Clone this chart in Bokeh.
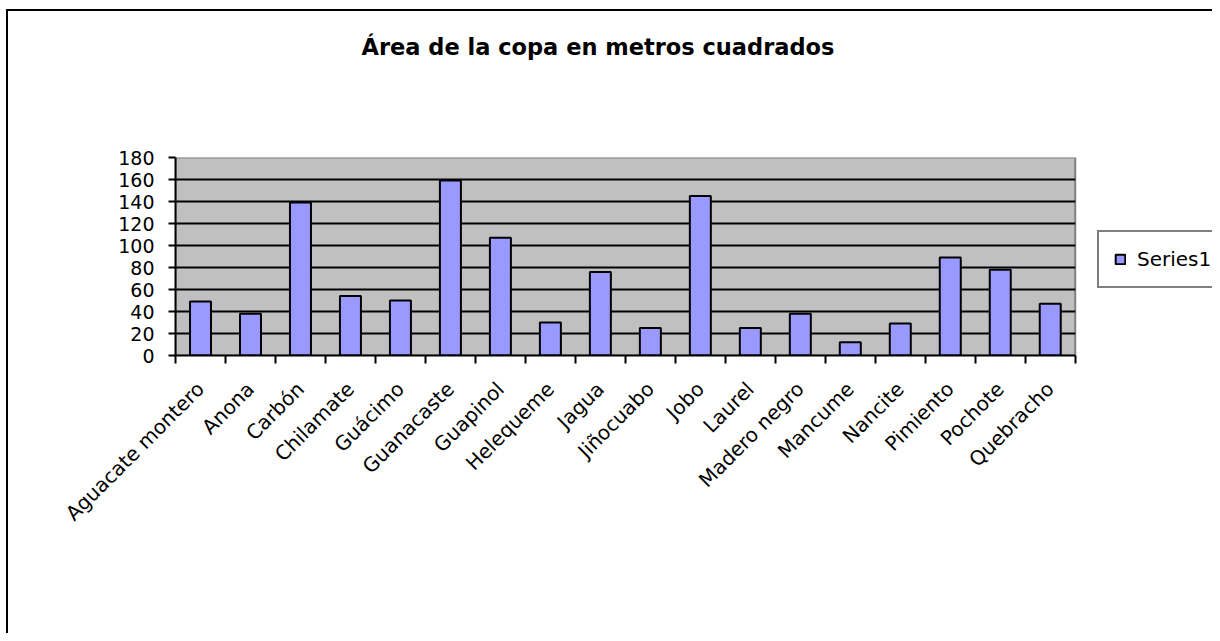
from bokeh.plotting import figure
from bokeh.models import (Range1d, FixedTicker, CustomJSTickFormatter, Legend, LegendItem,
                          ColumnDataSource, Title)
from bokeh.embed import file_html
from bokeh.resources import INLINE
import math

categories = ["Aguacate montero", "Anona", "Carbón", "Chilamate", "Guácimo", "Guanacaste",
              "Guapinol", "Helequeme", "Jagua", "Jiñocuabo", "Jobo", "Laurel", "Madero negro",
              "Mancume", "Nancite", "Pimiento", "Pochote", "Quebracho"]
values = [49, 38, 139, 54, 50, 159, 107, 30, 76, 25, 145, 25, 38, 12, 29, 89, 78, 47]
y_ticks = [0, 20, 40, 60, 80, 100, 120, 140, 160, 180]
title_text = "Área de la copa en metros cuadrados"
series_name = "Series1"

n = len(categories)
y_max = y_ticks[-1]
centers = [i + 0.5 for i in range(n)]
bounds = list(range(n + 1))

FONT = "DejaVu Sans"

# layout (pixels)
W, H = 1204, 622
LEFT, TOP, BOTTOM = 167, 146, 280
PLOT_PX = 898                      # width of the grey plot area
FRAME_PX = W - LEFT                # frame extends to right edge (room for legend)
x_end = n * FRAME_PX / PLOT_PX

p = figure(width=W, height=H, output_backend="svg", toolbar_location=None,
           x_range=Range1d(0, x_end), y_range=Range1d(0, y_max),
           min_border_left=LEFT, min_border_top=TOP, min_border_right=0, min_border_bottom=BOTTOM)
p.styles = {"margin-left": "6px", "margin-top": "9px", "box-sizing": "content-box",
            "overflow": "hidden",
            "border-left": "2px solid #000000", "border-top": "2px solid #000000"}
p.background_fill_color = "#FFFFFF"
p.border_fill_color = "#FFFFFF"
p.outline_line_color = None

# spacer (closest to the frame) then the real title above it
spacer = Title(text=" ", text_font=FONT, text_font_size="12px", standoff=82)
p.add_layout(spacer, "above")
t = Title(text=title_text, align="left", offset=186, vertical_align="bottom",
          text_font=FONT, text_font_size="22.5px", text_font_style="bold",
          text_color="#000000", standoff=0)
p.add_layout(t, "above")

# grey plot area
p.quad(left=[0], right=[n], bottom=[0], top=[y_max],
       fill_color="#C0C0C0", line_color="#808080", line_width=2)
# horizontal gridlines
grid_y = y_ticks[1:-1]
p.segment(x0=[0] * len(grid_y), x1=[n] * len(grid_y), y0=grid_y, y1=grid_y,
          line_color="#000000", line_width=2)

src = ColumnDataSource(dict(x=centers, top=values, name=categories))
r = p.vbar(x="x", top="top", width=0.42, bottom=0, source=src,
           fill_color="#9999FF", line_color="#000000", line_width=2)

# y axis
p.yaxis.ticker = FixedTicker(ticks=y_ticks)
p.yaxis.axis_line_color = "#000000"
p.yaxis.axis_line_width = 2
p.yaxis.major_tick_line_color = "#000000"
p.yaxis.major_tick_line_width = 2
p.yaxis.major_tick_out = 7
p.yaxis.major_tick_in = 0
p.yaxis.minor_tick_line_color = None
p.yaxis.major_label_text_font = FONT
p.yaxis.major_label_text_font_size = "19px"
p.yaxis.major_label_text_color = "#000000"
p.yaxis.major_label_standoff = 14

# x axis: labels at centres, ticks at boundaries
p.xaxis.bounds = (0, n)
p.xaxis.ticker = FixedTicker(ticks=centers, minor_ticks=bounds)
p.xaxis.formatter = CustomJSTickFormatter(args=dict(names=categories),
                                          code="const i = Math.floor(tick); return names[i] || '';")
p.xaxis.axis_line_color = "#000000"
p.xaxis.axis_line_width = 2
p.xaxis.major_tick_out = 0
p.xaxis.major_tick_in = 0
p.xaxis.minor_tick_line_color = "#000000"
p.xaxis.minor_tick_line_width = 2
p.xaxis.minor_tick_out = 8
p.xaxis.minor_tick_in = 0
p.xaxis.major_label_orientation = math.pi / 4
p.xaxis.major_label_text_font = FONT
p.xaxis.major_label_text_font_size = "20px"
p.xaxis.major_label_text_color = "#000000"
p.xaxis.major_label_standoff = 22

p.xgrid.grid_line_color = None
p.ygrid.grid_line_color = None

legend = Legend(items=[LegendItem(label=series_name, renderers=[r])],
                location=(922, 67), orientation="vertical",
                border_line_color="#000000", border_line_width=2,
                background_fill_color="#FFFFFF", background_fill_alpha=1,
                label_text_font=FONT, label_text_font_size="20px", label_text_color="#000000",
                glyph_width=12, glyph_height=12, label_standoff=11, label_width=120,
                padding=15, spacing=0, margin=0)
p.add_layout(legend, "center")

open("out.html", "w").write(file_html(p, INLINE))
